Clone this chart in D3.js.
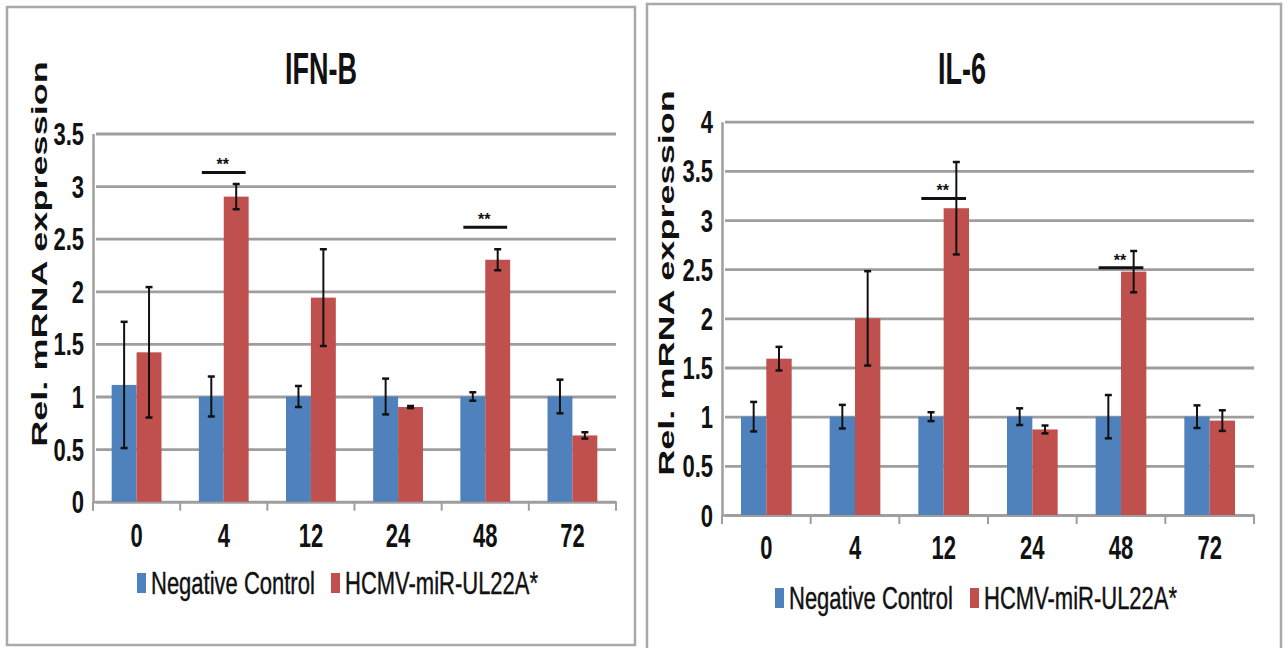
<!DOCTYPE html>
<meta charset="utf-8">
<script src="https://d3js.org/d3.v7.min.js"></script>
<style>
  body { margin: 0; background: #fff; }
  text { font-family: "Liberation Sans", Arial, sans-serif; fill: #111; }
</style>
<div id="chart"></div>
<script>

// categories (hours) and series
var categories = ["0", "4", "12", "24", "48", "72"];
var seriesNames = ["Negative Control", "HCMV-miR-UL22A*"];
var seriesColors = ["#4f81bd", "#c0504d"];

// IFN-B panel
var ifnControl    = [1.11, 1.00, 1.00, 1.00, 1.00, 1.00];
var ifnControlErr = [0.60, 0.19, 0.10, 0.17, 0.04, 0.16];
var ifnMir        = [1.42, 2.90, 1.94, 0.90, 2.30, 0.63];
var ifnMirErr     = [0.62, 0.12, 0.46, 0.01, 0.10, 0.03];
var ifnSig        = [{cat: "4", y: 3.13}, {cat: "48", y: 2.61}];
var ifnTicks      = [0, 0.5, 1, 1.5, 2, 2.5, 3, 3.5];

// IL-6 panel
var il6Control    = [1.00, 1.00, 1.00, 1.00, 1.00, 1.00];
var il6ControlErr = [0.15, 0.12, 0.045, 0.085, 0.22, 0.115];
var il6Mir        = [1.59, 2.00, 3.12, 0.87, 2.475, 0.96];
var il6MirErr     = [0.12, 0.48, 0.47, 0.04, 0.21, 0.105];
var il6Sig        = [{cat: "12", y: 3.22}, {cat: "48", y: 2.515}];
var il6Ticks      = [0, 0.5, 1, 1.5, 2, 2.5, 3, 3.5, 4];

var svg = d3.select("#chart")
    .append("svg")
    .attr("width", 1287)
    .attr("height", 648);

var gridColor = "#9e9e9e";

function drawPanel(c) {
    // panel frame
    svg.append("rect")
        .attr("x", c.box[0]).attr("y", c.box[1])
        .attr("width", c.box[2]).attr("height", c.box[3])
        .attr("fill", "#fff")
        .attr("stroke", "#a9a9a9")
        .attr("stroke-width", 2.5);

    var g = svg.append("g");

    var y = d3.scaleLinear()
        .domain([0, c.ticks[c.ticks.length - 1]])
        .range(c.yRange);

    var x = d3.scaleBand()
        .domain(categories)
        .range(c.xRange);

    var xs = d3.scaleBand()
        .domain([0, 1])
        .range([0, x.bandwidth()])
        .paddingInner(0)
        .paddingOuter(0.75);

    // y axis + gridlines
    var yAxis = g.append("g")
        .attr("transform", "translate(" + c.xRange[0] + ",0)")
        .call(d3.axisLeft(y)
            .tickValues(c.ticks)
            .tickFormat(d3.format("~g"))
            .tickSizeInner(-(c.xRange[1] - c.xRange[0]))
            .tickSizeOuter(0)
            .tickPadding(9));
    yAxis.select(".domain").attr("stroke", gridColor).attr("stroke-width", 2.5);
    yAxis.selectAll(".tick line")
        .attr("x1", 3)
        .attr("stroke", gridColor).attr("stroke-width", 2.8);
    yAxis.selectAll(".tick text")
        .style("font-size", "22px")
        .style("font-weight", "bold")
        .attr("dy", "0.36em")
        .attr("transform", "scale(1,1.4)")
        .attr("y", 0);

    // x axis
    var xAxis = g.append("g")
        .attr("transform", "translate(0," + c.yRange[0] + ")")
        .call(d3.axisBottom(x).tickSize(0).tickPadding(0));
    xAxis.select(".domain").attr("stroke", gridColor).attr("stroke-width", 2.5);
    xAxis.selectAll(".tick text")
        .style("font-size", "22px")
        .style("font-weight", "bold")
        .attr("y", 0)
        .attr("dy", "0.36em")
        .attr("transform", "translate(0," + (c.xLabelY - c.yRange[0]) + ") scale(1,1.5)");

    var bounds = categories.map(function(d) { return x(d); }).concat([c.xRange[1]]);
    g.append("g").selectAll("line")
        .data(bounds)
        .enter().append("line")
        .attr("x1", function(d) { return d; })
        .attr("x2", function(d) { return d; })
        .attr("y1", c.yRange[0])
        .attr("y2", c.yRange[0] + 9)
        .attr("stroke", gridColor)
        .attr("stroke-width", 2);

    // bars
    var series = [
        {values: c.control, errs: c.controlErr},
        {values: c.mir, errs: c.mirErr}
    ];
    series.forEach(function(s, si) {
        var rows = categories.map(function(cat, i) {
            return {cat: cat, v: s.values[i], e: s.errs[i]};
        });
        g.append("g").selectAll("rect")
            .data(rows)
            .enter().append("rect")
            .attr("x", function(d) { return x(d.cat) + xs(si); })
            .attr("width", xs.bandwidth())
            .attr("y", function(d) { return y(d.v); })
            .attr("height", function(d) { return y(0) - y(d.v); })
            .attr("fill", seriesColors[si]);

        // error bars
        var eg = g.append("g").selectAll("g")
            .data(rows)
            .enter().append("g")
            .attr("transform", function(d) {
                return "translate(" + (x(d.cat) + xs(si) + xs.bandwidth() / 2) + ",0)";
            });
        eg.append("line")
            .attr("y1", function(d) { return y(d.v - d.e); })
            .attr("y2", function(d) { return y(d.v + d.e); })
            .attr("stroke", "#111").attr("stroke-width", 2);
        eg.append("line")
            .attr("x1", -3.5).attr("x2", 3.5)
            .attr("y1", function(d) { return y(d.v + d.e); })
            .attr("y2", function(d) { return y(d.v + d.e); })
            .attr("stroke", "#111").attr("stroke-width", 2.5);
        eg.append("line")
            .attr("x1", -3.5).attr("x2", 3.5)
            .attr("y1", function(d) { return y(d.v - d.e); })
            .attr("y2", function(d) { return y(d.v - d.e); })
            .attr("stroke", "#111").attr("stroke-width", 2.5);
    });

    // significance marks
    var sg = g.append("g").selectAll("g")
        .data(c.sig)
        .enter().append("g");
    sg.append("line")
        .attr("x1", function(d) { return x(d.cat) + xs(0) + 3; })
        .attr("x2", function(d) { return x(d.cat) + xs(1) + xs.bandwidth() - 3; })
        .attr("y1", function(d) { return y(d.y); })
        .attr("y2", function(d) { return y(d.y); })
        .attr("stroke", "#111").attr("stroke-width", 3);
    sg.append("text")
        .attr("x", function(d) { return x(d.cat) + xs(1) - 1; })
        .attr("y", function(d) { return y(d.y) - 2; })
        .attr("text-anchor", "middle")
        .style("font-size", "16px")
        .style("font-weight", "bold")
        .text("**");

    // title
    g.append("text")
        .attr("transform", "translate(" + c.titlePos[0] + "," + c.titlePos[1] + ") scale(1,1.65)")
        .attr("text-anchor", "middle")
        .attr("dy", "0.36em")
        .style("font-size", "27px")
        .style("font-weight", "bold")
        .text(c.title);

    // y axis title
    g.append("text")
        .attr("transform", "translate(" + c.yTitlePos[0] + "," + c.yTitlePos[1] + ") rotate(-90) scale(1.64,1)")
        .attr("text-anchor", "middle")
        .attr("dy", "0.36em")
        .style("font-size", "22px")
        .style("font-weight", "bold")
        .text("Rel. mRNA expression");

    // legend
    var lg = g.append("g").selectAll("g")
        .data(seriesNames)
        .enter().append("g")
        .attr("transform", function(d, i) { return "translate(" + c.legendX[i] + "," + c.legendY + ")"; });
    lg.append("rect")
        .attr("x", 0).attr("y", -10)
        .attr("width", 9).attr("height", 20)
        .attr("fill", function(d, i) { return seriesColors[i]; });
    lg.append("text")
        .attr("transform", "translate(14,0) scale(1,1.4)")
        .attr("dy", "0.36em")
        .style("font-size", "22px")
        .style("font-weight", "500")
        .style("stroke", "#111")
        .style("stroke-width", 0.3)
        .text(function(d) { return d; });
}

drawPanel({
    title: "IFN-B",
    control: ifnControl, controlErr: ifnControlErr,
    mir: ifnMir, mirErr: ifnMirErr,
    sig: ifnSig, ticks: ifnTicks,
    box: [7, 7, 628, 638],
    xRange: [93, 616],
    yRange: [501.7, 133.5],
    titlePos: [321, 68],
    yTitlePos: [39, 254],
    xLabelY: 535,
    legendY: 583,
    legendX: [137, 331]
});

drawPanel({
    title: "IL-6",
    control: il6Control, controlErr: il6ControlErr,
    mir: il6Mir, mirErr: il6MirErr,
    sig: il6Sig, ticks: il6Ticks,
    box: [647, 4, 634, 652],
    xRange: [722, 1254],
    yRange: [515, 121.7],
    titlePos: [962, 68],
    yTitlePos: [666, 283],
    xLabelY: 547,
    legendY: 598,
    legendX: [775, 970]
});

</script>
